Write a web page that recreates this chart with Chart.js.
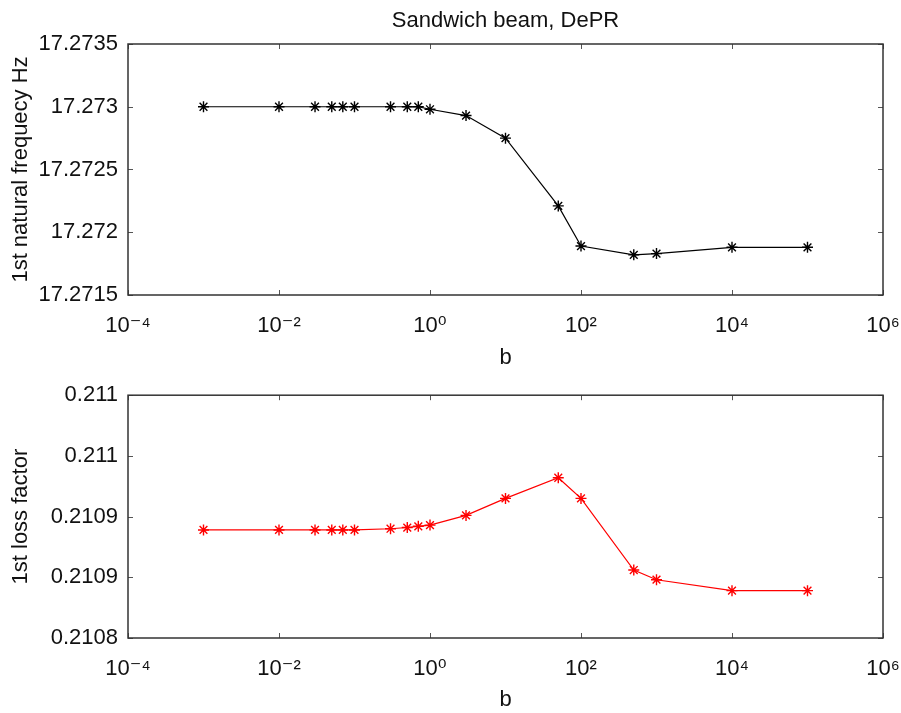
<!DOCTYPE html>
<html>
<head>
<meta charset="utf-8">
<script src="https://cdn.jsdelivr.net/npm/chart.js@4.4.1/dist/chart.umd.min.js"></script>
<style>
  html, body { margin: 0; padding: 0; background: #fff; overflow: hidden; }
  #wrapA { position: absolute; left: 0; top: 0; width: 901px; height: 372px; }
  #wrapB { position: absolute; left: 0; top: 372px; width: 901px; height: 341px; }
</style>
</head>
<body>
<div id="wrapA"><canvas id="cA"></canvas></div>
<div id="wrapB"><canvas id="cB"></canvas></div>
<script>
// ---- data ----
const bValues = [0.001, 0.01, 0.03, 0.05, 0.07, 0.1, 0.3, 0.5, 0.7, 1, 3, 10, 50, 100, 500, 1000, 10000, 100000];
const freqValues = [17.27300, 17.27300, 17.27300, 17.27300, 17.27300, 17.27300, 17.27300, 17.27300, 17.27300,
                    17.27298, 17.27293, 17.27275, 17.27221, 17.27189, 17.27182, 17.27183, 17.27188, 17.27188];
const lossValues = [0.210889, 0.210889, 0.210889, 0.210889, 0.210889, 0.210889, 0.210890, 0.210891, 0.210892,
                    0.210893, 0.210901, 0.210915, 0.210932, 0.210915, 0.210856, 0.210848, 0.210839, 0.210839];
const xTickValues = [1e-4, 1e-2, 1, 1e2, 1e4, 1e6];
const xTickLabels = ['10\u207B\u2074', '10\u207B\u00B2', '10\u2070', '10\u00B2', '10\u2074', '10\u2076'];
const freqTickValues = [17.2715, 17.272, 17.2725, 17.273, 17.2735];
const freqTickLabels = ['17.2715', '17.272', '17.2725', '17.273', '17.2735'];
const lossTickValues = [0.2108, 0.21085, 0.2109, 0.21095, 0.2110];
const lossTickLabels = ['0.2108', '0.2109', '0.2109', '0.211', '0.211'];
const chartTitle = 'Sandwich beam, DePR';
const xTitle = 'b';
const freqTitle = '1st natural frequecy Hz';
const lossTitle = '1st loss factor';

const FONT = "'Liberation Sans', Arial, 'DejaVu Sans', sans-serif";
const TXT = '#111';

const boxPlugin = {
  id: 'matlabBox',
  afterDatasetsDraw(chart) {
    const ctx = chart.ctx;
    const a = chart.chartArea;
    const xs = chart.scales.x, ys = chart.scales.y;
    ctx.save();
    ctx.strokeStyle = '#555';
    ctx.lineWidth = 1;
    const tl = 5;
    ctx.beginPath();
    xs.ticks.forEach(t => {
      const px = Math.round(xs.getPixelForValue(t.value)) + 0.5;
      ctx.moveTo(px, a.bottom); ctx.lineTo(px, a.bottom - tl);
      ctx.moveTo(px, a.top); ctx.lineTo(px, a.top + tl);
    });
    ys.ticks.forEach(t => {
      const py = Math.round(ys.getPixelForValue(t.value)) + 0.5;
      ctx.moveTo(a.left, py); ctx.lineTo(a.left + tl, py);
      ctx.moveTo(a.right, py); ctx.lineTo(a.right - tl, py);
    });
    ctx.stroke();
    ctx.strokeStyle = '#333';
    ctx.lineWidth = 1.5;
    ctx.strokeRect(a.left, a.top, a.right - a.left, a.bottom - a.top);
    ctx.restore();
  }
};

function makeChart(canvasId, values, color, yMin, yMax, yTickVals, yTickLbls, yTitle, opts) {
  const pts = bValues.map((b, i) => ({ x: b, y: values[i] }));
  return new Chart(document.getElementById(canvasId), {
    type: 'line',
    data: {
      datasets: [{
        data: pts,
        borderColor: color,
        backgroundColor: color,
        borderWidth: 1.2,
        pointStyle: 'star',
        pointRadius: 5.5,
        pointBorderWidth: 1.4,
        pointBorderColor: color,
        pointBackgroundColor: color,
        tension: 0,
        fill: false
      }]
    },
    options: {
      responsive: true,
      maintainAspectRatio: false,
      animation: false,
      layout: { padding: { left: 0, right: 18, top: opts.padTop, bottom: opts.padBottom } },
      plugins: {
        legend: { display: false },
        tooltip: { enabled: false },
        title: {
          display: opts.showTitle,
          text: chartTitle,
          fullSize: false,
          color: TXT,
          font: { family: FONT, size: 22, weight: 'normal', lineHeight: 1.2 },
          padding: { top: 8, bottom: 9.6 }
        }
      },
      scales: {
        x: {
          type: 'logarithmic',
          min: 1e-4,
          max: 1e6,
          afterBuildTicks: (s) => { s.ticks = xTickValues.map(v => ({ value: v })); },
          afterFit: (s) => { s.height = opts.xHeight; s.paddingLeft = 0; s.paddingRight = 0; },
          grid: { display: false, drawTicks: false },
          border: { display: false },
          ticks: {
            autoSkip: false,
            maxRotation: 0,
            padding: 18,
            color: TXT,
            font: { family: FONT, size: 22, lineHeight: 1.2 },
            callback: (v, i) => xTickLabels[i]
          },
          title: {
            display: true,
            text: xTitle,
            color: TXT,
            font: { family: FONT, size: 22, lineHeight: 1.2 },
            padding: { top: 0, bottom: opts.xTitlePad }
          }
        },
        y: {
          type: 'linear',
          min: yMin,
          max: yMax,
          afterBuildTicks: (s) => { s.ticks = yTickVals.map(v => ({ value: v })); },
          afterFit: (s) => { s.width = 128; },
          grid: { display: false, drawTicks: false },
          border: { display: false },
          ticks: {
            autoSkip: false,
            padding: 10,
            color: TXT,
            font: { family: FONT, size: 22, lineHeight: 1.2 },
            callback: (v, i) => yTickLbls[i]
          },
          title: {
            display: true,
            text: yTitle,
            color: TXT,
            font: { family: FONT, size: 22, lineHeight: 1.2 },
            padding: { top: 8, bottom: 0 }
          }
        }
      }
    },
    plugins: [boxPlugin]
  });
}

makeChart('cA', freqValues, '#000000', 17.2715, 17.2735, freqTickValues, freqTickLabels, freqTitle,
  { showTitle: true, padTop: 0, padBottom: 0, xHeight: 77, xTitlePad: 1 });
makeChart('cB', lossValues, '#ff0000', 0.2108, 0.2110, lossTickValues, lossTickLabels, lossTitle,
  { showTitle: false, padTop: 15, padBottom: 0, xHeight: 75, xTitlePad: 0 });
</script>
</body>
</html>
